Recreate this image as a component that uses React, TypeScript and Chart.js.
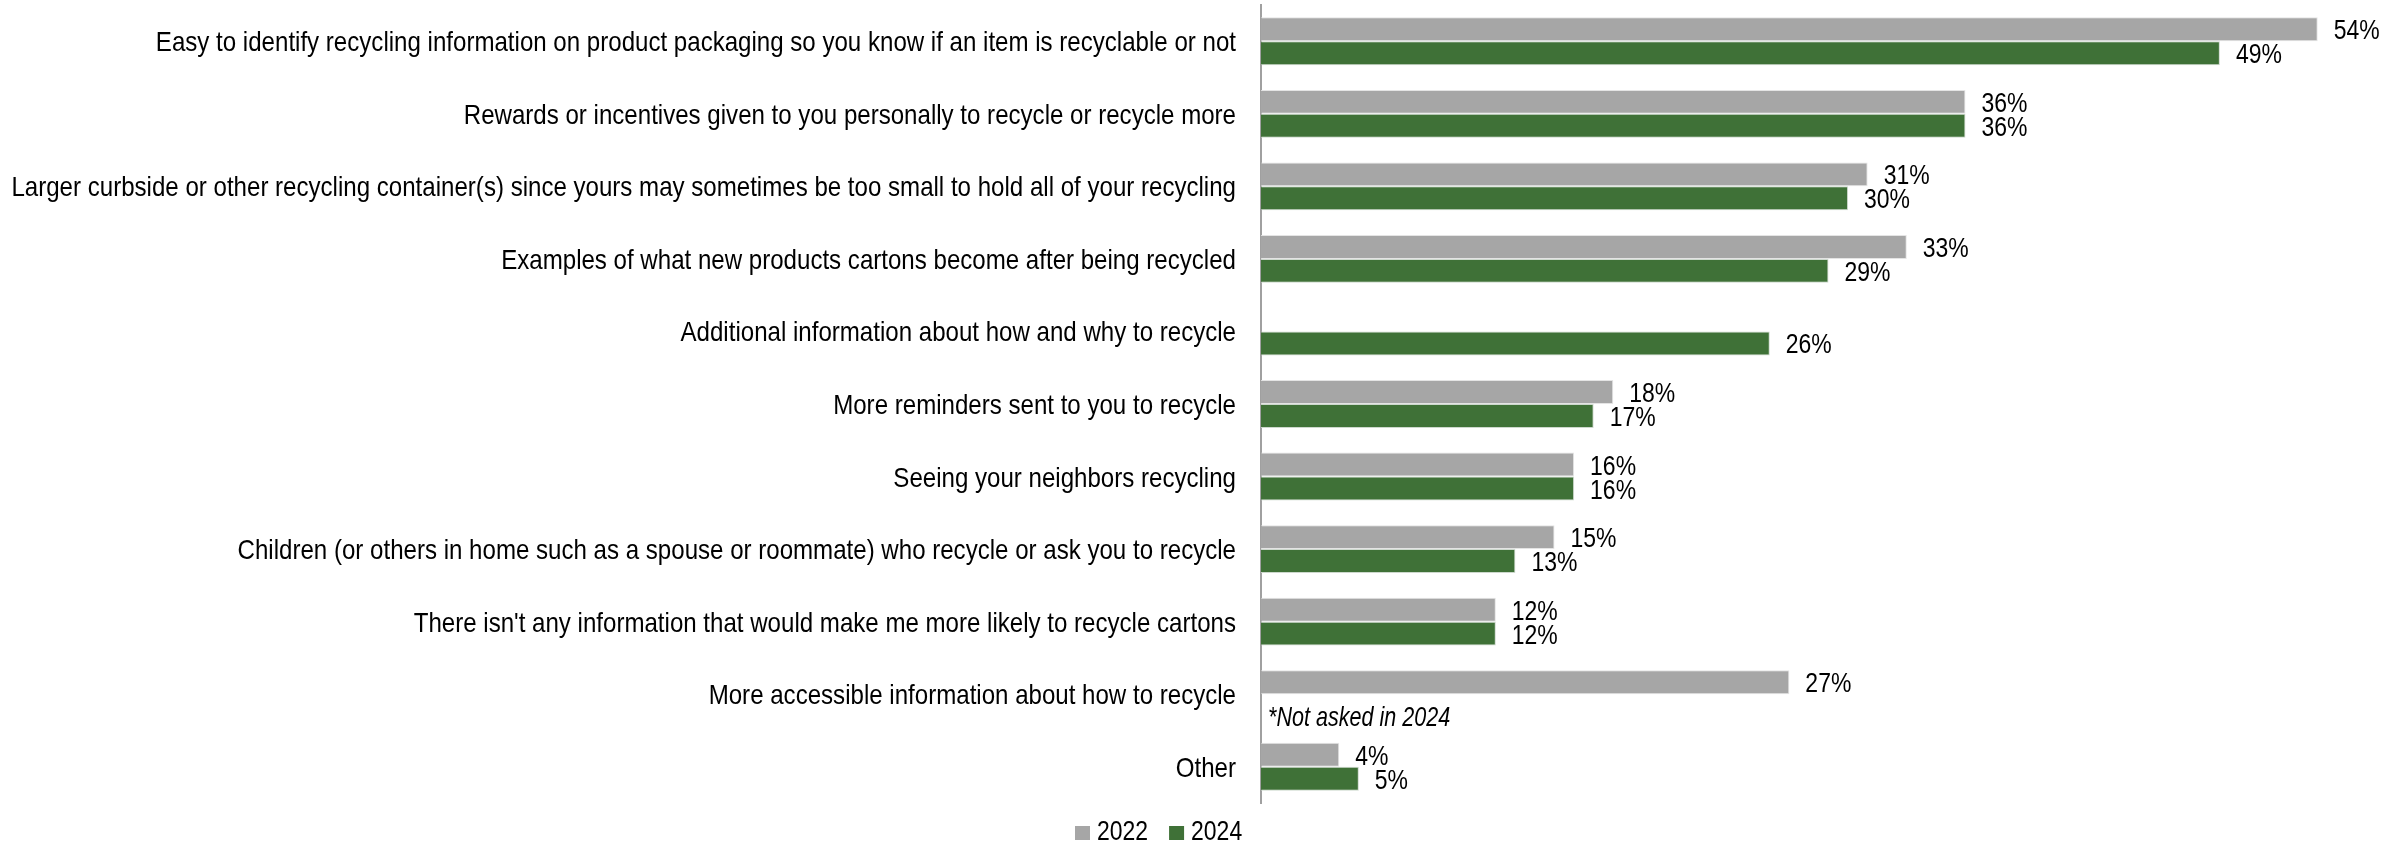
import React, { useEffect, useRef } from "react";
import { Chart, registerables } from "chart.js";

Chart.register(...registerables);

const categories = [
  "Easy to identify recycling information on product packaging so you know if an item is recyclable or not",
  "Rewards or incentives given to you personally to recycle or recycle more",
  "Larger curbside or other recycling container(s) since yours may sometimes be too small to hold all of your recycling",
  "Examples of what new products cartons become after being recycled",
  "Additional information about how and why to recycle",
  "More reminders sent to you to recycle",
  "Seeing your neighbors recycling",
  "Children (or others in home such as a spouse or roommate) who recycle or ask you to recycle",
  "There isn't any information that would make me more likely to recycle cartons",
  "More accessible information about how to recycle",
  "Other",
];

const values2022: (number | null)[] = [54, 36, 31, 33, null, 18, 16, 15, 12, 27, 4];
const values2024: (number | null)[] = [49, 36, 30, 29, 26, 17, 16, 13, 12, null, 5];

const seriesNames = ["2022", "2024"];
const seriesColors = ["#A6A6A6", "#3F7137"];
const noteText = "*Not asked in 2024";
const noteCategoryIndex = 9;

const FONT = '"Liberation Sans", Arial, sans-serif';
const FS = 28;
// horizontal condensation to emulate the narrow face of the original
const SX_CAT = 0.86;
const SX_VAL = 0.82;
const SX_NOTE = 0.77;

function drawText(
  ctx: CanvasRenderingContext2D,
  text: string,
  x: number,
  y: number,
  align: CanvasTextAlign,
  sx: number,
  italic = false
) {
  ctx.save();
  ctx.font = `${italic ? "italic " : ""}${FS}px ${FONT}`;
  ctx.textAlign = align;
  ctx.textBaseline = "alphabetic";
  ctx.scale(sx, 1);
  ctx.fillText(text, x / sx, y);
  ctx.restore();
}

function textWidth(ctx: CanvasRenderingContext2D, text: string, sx: number) {
  ctx.save();
  ctx.font = `${FS}px ${FONT}`;
  const w = ctx.measureText(text).width * sx;
  ctx.restore();
  return w;
}

const labelPlugin = {
  id: "textLayer",
  afterDatasetsDraw(chart: any) {
    const ctx: CanvasRenderingContext2D = chart.ctx;
    const yScale = chart.scales.y;
    const area = chart.chartArea;
    ctx.save();
    ctx.fillStyle = "#000";
    // category labels
    chart.data.labels.forEach((lab: string, i: number) => {
      const y = yScale.getPixelForValue(i);
      drawText(ctx, lab, area.left - 25, y + 10, "right", SX_CAT);
    });
    // value labels
    chart.data.datasets.forEach((ds: any, di: number) => {
      const meta = chart.getDatasetMeta(di);
      meta.data.forEach((bar: any, i: number) => {
        const v = ds.data[i];
        if (v === null || v === undefined) return;
        drawText(ctx, `${v}%`, bar.x + 16, bar.y + 10, "left", SX_VAL);
      });
    });
    // note
    const ny = yScale.getPixelForValue(noteCategoryIndex);
    drawText(ctx, noteText, area.left + 7, ny + 32, "left", SX_NOTE, true);
    // legend
    const legendY = 840;
    let x = 1075;
    seriesNames.forEach((name, i) => {
      ctx.fillStyle = seriesColors[i];
      ctx.fillRect(x, legendY - 14, 15, 14);
      ctx.fillStyle = "#000";
      drawText(ctx, name, x + 22, legendY, "left", SX_VAL);
      x += 22 + textWidth(ctx, name, SX_VAL) + 21;
    });
    ctx.restore();
  },
};

export default function App() {
  const ref = useRef<HTMLCanvasElement | null>(null);
  useEffect(() => {
    document.body.style.margin = "0";
    let chart: Chart | null = null;
    if (!ref.current) return;
    chart = new Chart(ref.current, {
      type: "bar",
      data: {
        labels: categories,
        datasets: [
          {
            label: seriesNames[0],
            data: values2022,
            backgroundColor: seriesColors[0],
            borderColor: "rgba(225,225,225,0.9)",
            borderWidth: 1,
            categoryPercentage: 0.66,
            barPercentage: 1,
          },
          {
            label: seriesNames[1],
            data: values2024,
            backgroundColor: seriesColors[1],
            borderColor: "rgba(200,212,200,0.9)",
            borderWidth: 1,
            categoryPercentage: 0.66,
            barPercentage: 1,
          },
        ],
      },
      options: {
        indexAxis: "y",
        responsive: false,
        animation: false,
        layout: { padding: { top: 5, right: 3, bottom: 39, left: 0 } },
        plugins: {
          legend: { display: false },
          tooltip: { enabled: false },
        },
        scales: {
          x: {
            display: false,
            min: 0,
            max: 58,
          },
          y: {
            grid: { display: false },
            border: { display: true, color: "#A0A0A0", width: 2 },
            ticks: { display: false },
            afterFit(scale: any) {
              scale.width = 1261;
            },
          },
        },
      },
      plugins: [labelPlugin],
    });
    return () => {
      if (chart) chart.destroy();
    };
  }, []);
  return (
    <div style={{ position: "absolute", left: 0, top: 0, width: 2399, height: 842 }}>
      <canvas ref={ref} width={2399} height={842} />
    </div>
  );
}
